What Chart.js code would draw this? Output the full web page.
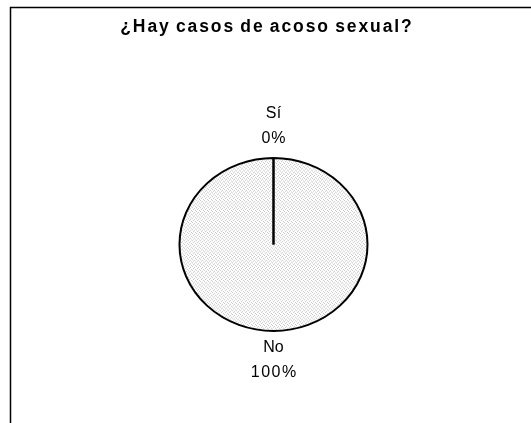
<!DOCTYPE html>
<html>
<head>
<meta charset="utf-8">
<script src="https://cdn.jsdelivr.net/npm/chart.js@4"></script>
<style>
  html, body { margin: 0; padding: 0; background: #fff; }
  #wrap { width: 531px; height: 423px; }
</style>
</head>
<body>
<div id="wrap"><canvas id="pieChart" width="531" height="423"></canvas></div>
<script>
const titleText = "¿Hay casos de acoso sexual?";
const labels = ["Sí", "No"];
const values = [0, 100];
const percents = ["0%", "100%"];

// dotted gray fill like the original
const tile = document.createElement("canvas");
tile.width = 4;
tile.height = 4;
const tctx = tile.getContext("2d");
tctx.fillStyle = "#ffffff";
tctx.fillRect(0, 0, 4, 4);
tctx.fillStyle = "#c6c6c6";
tctx.fillRect(0, 0, 1, 1);
tctx.fillRect(2, 1, 1, 1);
tctx.fillRect(1, 2, 1, 1);
tctx.fillRect(3, 3, 1, 1);
const ctx = document.getElementById("pieChart").getContext("2d");
const dotFill = ctx.createPattern(tile, "repeat");

const yScale = 0.92;

function spacedText(c, text, x, y, spacing) {
  c.letterSpacing = spacing + "px";
  c.fillText(text, x + spacing / 2, y);
}

const framePlugin = {
  id: "frame",
  beforeDraw(chart) {
    const c = chart.ctx;
    c.save();
    c.fillStyle = "#fff";
    c.fillRect(0, 0, chart.width, chart.height);
    c.strokeStyle = "#000";
    c.lineWidth = 1.5;
    c.beginPath();
    c.moveTo(10.5, chart.height);
    c.lineTo(10.5, 7.5);
    c.lineTo(chart.width, 7.5);
    c.stroke();
    c.font = "bold 17.5px 'Liberation Sans', Arial, sans-serif";
    c.wordSpacing = "-1.5px";
    c.fillStyle = "#000";
    c.textAlign = "center";
    c.textBaseline = "middle";
    spacedText(c, titleText, 266, 27, 1.9);
    c.restore();
  },
  beforeDatasetsDraw(chart) {
    const arc = chart.getDatasetMeta(0).data[1];
    const c = chart.ctx;
    c.save();
    c.translate(arc.x, arc.y);
    c.scale(1, yScale);
    c.translate(-arc.x, -arc.y);
  },
  afterDatasetsDraw(chart) {
    const c = chart.ctx;
    c.restore();
    const meta = chart.getDatasetMeta(0);
    const arc = meta.data[1];
    const r = arc.outerRadius * yScale;
    c.save();
    // radial edge of the empty slice
    c.strokeStyle = "#000";
    c.lineWidth = 2;
    c.beginPath();
    c.moveTo(arc.x, arc.y);
    c.lineTo(arc.x, arc.y - r);
    c.stroke();
    c.font = "16px 'Liberation Sans', Arial, sans-serif";
    c.fillStyle = "#000";
    c.textAlign = "center";
    c.textBaseline = "middle";
    spacedText(c, labels[0], arc.x, arc.y - r - 44, 0.5);
    spacedText(c, percents[0], arc.x, arc.y - r - 19, 1);
    spacedText(c, labels[1], arc.x, arc.y + r + 17, 0);
    spacedText(c, percents[1], arc.x, arc.y + r + 42, 1.5);
    c.restore();
  }
};

new Chart(ctx, {
  type: "pie",
  data: {
    labels: labels,
    datasets: [
      {
        data: values,
        backgroundColor: [dotFill, dotFill],
        borderColor: "#000",
        borderWidth: 2,
      },
    ],
  },
  options: {
    responsive: false,
    animation: false,
    radius: 94,
    layout: { padding: { left: 60, right: 44, top: 112, bottom: 46 } },
    plugins: {
      legend: { display: false },
      tooltip: { enabled: false },
      title: { display: false },
    },
  },
  plugins: [framePlugin],
});
</script>
</body>
</html>
